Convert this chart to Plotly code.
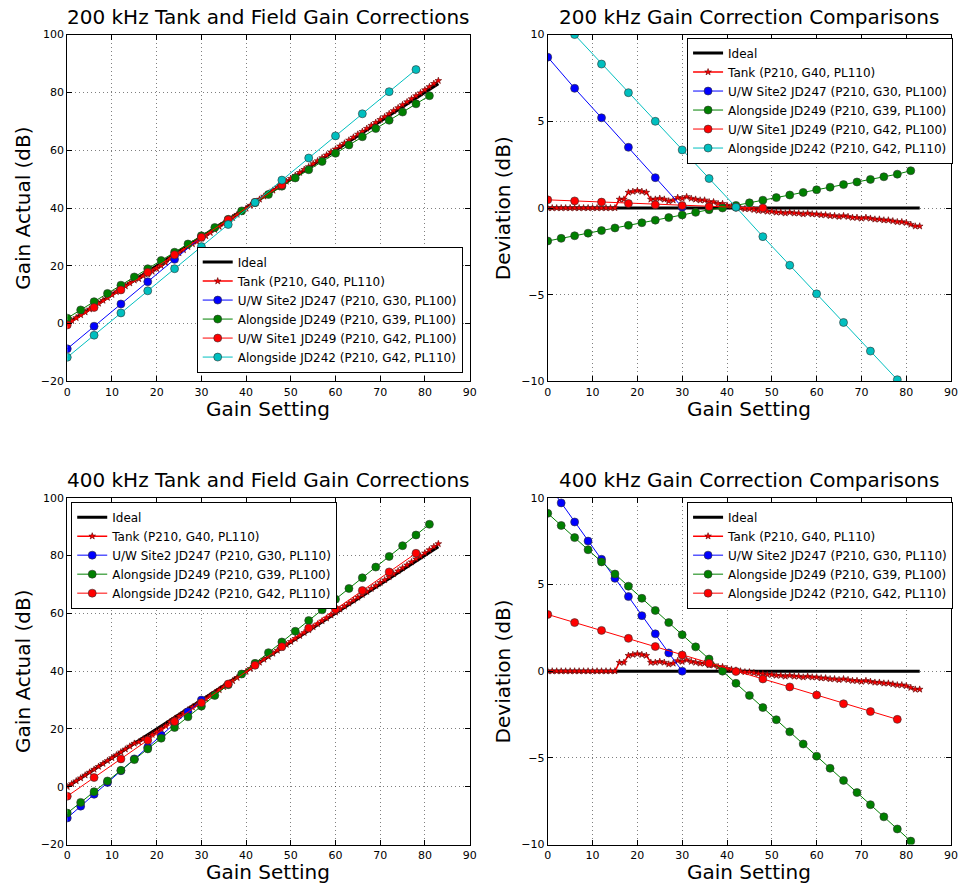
import plotly.graph_objects as go

# ---------------- data ----------------
ideal_x = [0, 83]
ideal_dev = [0, 0]

tank_x = list(range(84))
tank_dev = [0, 0, 0, 0, 0, 0, 0, 0, 0, 0, 0, 0, 0, 0, 0, 0,
            0.5, 0.5, 0.9, 0.95, 1.0, 0.95, 0.9, 0.5, 0.5, 0.55, 0.5, 0.4, 0.45, 0.6,
            0.55, 0.65, 0.55, 0.5, 0.45, 0.45, 0.35, 0.35, 0.25, 0.25, 0.15, 0.1, 0.05, 0.0,
            -0.05, -0.05, -0.1, -0.15, -0.15, -0.2, -0.2, -0.25, -0.25, -0.3, -0.25, -0.3,
            -0.3, -0.35, -0.3, -0.35, -0.35, -0.4, -0.4, -0.45, -0.45, -0.5, -0.45, -0.5,
            -0.55, -0.55, -0.6, -0.55, -0.6, -0.65, -0.65, -0.7, -0.7, -0.75, -0.8, -0.8,
            -0.85, -0.95, -1.05, -1.05]

# 200 kHz
uw2_200_x = [0, 6, 12, 18, 24, 30]
uw2_200_dev = [8.7, 6.9, 5.2, 3.5, 1.75, 0.05]

along249_200_x = [0, 3, 6, 9, 12, 15, 18, 21, 24, 27, 30, 33, 36, 39, 42, 45, 48, 51, 54,
                  57, 60, 63, 66, 69, 72, 75, 78, 81]
along249_200_dev = [-1.9, -1.75, -1.6, -1.45, -1.3, -1.15, -1.0, -0.85, -0.7, -0.55, -0.4,
                    -0.25, -0.1, 0.0, 0.15, 0.3, 0.45, 0.6, 0.75, 0.9, 1.05, 1.2, 1.35,
                    1.5, 1.65, 1.8, 1.95, 2.15]

uw1_200_x = [0, 6, 12, 18, 24, 30, 36, 42, 48]
uw1_200_dev = [0.47, 0.41, 0.34, 0.26, 0.19, 0.14, 0.08, 0.04, 0.0]

along242_200_x = [0, 6, 12, 18, 24, 30, 36, 42, 48, 54, 60, 66, 72, 78]
along242_200_dev = [11.65, 10.0, 8.3, 6.65, 5.0, 3.35, 1.7, 0.05, -1.65, -3.3, -4.95,
                    -6.6, -8.25, -9.9]

# 400 kHz
uw2_400_x = [0, 3, 6, 9, 12, 15, 18, 21, 24, 27, 30]
uw2_400_dev = [10.8, 9.7, 8.6, 7.5, 6.45, 5.35, 4.3, 3.2, 2.15, 1.05, 0.0]

along249_400_x = [0, 3, 6, 9, 12, 15, 18, 21, 24, 27, 30, 33, 36, 39, 42, 45, 48, 51, 54,
                  57, 60, 63, 66, 69, 72, 75, 78, 81]
along249_400_dev = [9.1, 8.4, 7.7, 7.0, 6.3, 5.6, 4.9, 4.2, 3.5, 2.8, 2.1, 1.4, 0.7, 0.0,
                    -0.7, -1.4, -2.1, -2.8, -3.5, -4.2, -4.9, -5.6, -6.3, -7.0, -7.7,
                    -8.4, -9.1, -9.8]

along242_400_x = [0, 6, 12, 18, 24, 30, 36, 42, 48, 54, 60, 66, 72, 78]
along242_400_dev = [3.27, 2.8, 2.35, 1.89, 1.42, 0.93, 0.45, -0.02, -0.45, -0.91, -1.38,
                    -1.88, -2.33, -2.78]

LBL_IDEAL = "Ideal"
LBL_TANK = "Tank (P210, G40, PL110)"
LBL_UW2_200 = "U/W Site2 JD247 (P210, G30, PL100)"
LBL_UW2_400 = "U/W Site2 JD247 (P210, G30, PL110)"
LBL_A249 = "Alongside JD249 (P210, G39, PL100)"
LBL_UW1 = "U/W Site1 JD249 (P210, G42, PL100)"
LBL_A242 = "Alongside JD242 (P210, G42, PL110)"

TITLES = ["200 kHz Tank and Field Gain Corrections", "200 kHz Gain Correction Comparisons",
          "400 kHz Tank and Field Gain Corrections", "400 kHz Gain Correction Comparisons"]


def actual(xs, devs):
    return [x - d for x, d in zip(xs, devs)]


FONT = "DejaVu Sans"
BLUE, GREEN, RED, CYAN = "#0000ff", "#008000", "#ff0000", "#00bfbf"

fig = go.Figure()


def add(xs, ys, name, color, axis, legend, kind="circle"):
    xa, ya = axis
    if kind == "ideal":
        tr = go.Scatter(x=xs, y=ys, mode="lines", name=name,
                        line=dict(color="black", width=3))
    elif kind == "star":
        tr = go.Scatter(x=xs, y=ys, mode="lines+markers", name=name,
                        line=dict(color=color, width=1.5),
                        marker=dict(symbol="star", size=5, color=color,
                                    line=dict(color="#5a0000", width=0.6)))
    else:
        tr = go.Scatter(x=xs, y=ys, mode="lines+markers", name=name,
                        line=dict(color=color, width=1),
                        marker=dict(symbol="circle", size=8, color=color,
                                    line=dict(color="#333333", width=0.6)))
    tr.update(xaxis=xa, yaxis=ya, legend=legend)
    fig.add_trace(tr)


# panel 1: 200 kHz actual
ax = ("x", "y")
add(ideal_x, ideal_x, LBL_IDEAL, "black", ax, "legend", "ideal")
add(tank_x, actual(tank_x, tank_dev), LBL_TANK, RED, ax, "legend", "star")
add(uw2_200_x, actual(uw2_200_x, uw2_200_dev), LBL_UW2_200, BLUE, ax, "legend")
add(along249_200_x, actual(along249_200_x, along249_200_dev), LBL_A249, GREEN, ax, "legend")
add(uw1_200_x, actual(uw1_200_x, uw1_200_dev), LBL_UW1, RED, ax, "legend")
add(along242_200_x, actual(along242_200_x, along242_200_dev), LBL_A242, CYAN, ax, "legend")

# panel 2: 200 kHz deviation
ax = ("x2", "y2")
add(ideal_x, ideal_dev, LBL_IDEAL, "black", ax, "legend2", "ideal")
add(tank_x, tank_dev, LBL_TANK, RED, ax, "legend2", "star")
add(uw2_200_x, uw2_200_dev, LBL_UW2_200, BLUE, ax, "legend2")
add(along249_200_x, along249_200_dev, LBL_A249, GREEN, ax, "legend2")
add(uw1_200_x, uw1_200_dev, LBL_UW1, RED, ax, "legend2")
add(along242_200_x, along242_200_dev, LBL_A242, CYAN, ax, "legend2")

# panel 3: 400 kHz actual
ax = ("x3", "y3")
add(ideal_x, ideal_x, LBL_IDEAL, "black", ax, "legend3", "ideal")
add(tank_x, actual(tank_x, tank_dev), LBL_TANK, RED, ax, "legend3", "star")
add(uw2_400_x, actual(uw2_400_x, uw2_400_dev), LBL_UW2_400, BLUE, ax, "legend3")
add(along249_400_x, actual(along249_400_x, along249_400_dev), LBL_A249, GREEN, ax, "legend3")
add(along242_400_x, actual(along242_400_x, along242_400_dev), LBL_A242, RED, ax, "legend3")

# panel 4: 400 kHz deviation
ax = ("x4", "y4")
add(ideal_x, ideal_dev, LBL_IDEAL, "black", ax, "legend4", "ideal")
add(tank_x, tank_dev, LBL_TANK, RED, ax, "legend4", "star")
add(uw2_400_x, uw2_400_dev, LBL_UW2_400, BLUE, ax, "legend4")
add(along249_400_x, along249_400_dev, LBL_A249, GREEN, ax, "legend4")
add(along242_400_x, along242_400_dev, LBL_A242, RED, ax, "legend4")

W, H = 966, 891
# plot areas in pixels (left, right, top, bottom)
boxes = [(64, 471, 29, 381), (550, 958, 29, 381), (64, 471, 499, 851), (550, 958, 499, 851)]
yranges = [[-20, 100], [-10, 10], [-20, 100], [-10, 10]]
ydticks = [20, 5, 20, 5]
ylabels = ["Gain Actual (dB)", "Deviation (dB)", "Gain Actual (dB)", "Deviation (dB)"]

common = dict(showline=True, linecolor="black", linewidth=1, mirror="allticks",
              ticks="inside", ticklen=5, tickcolor="black", showgrid=True,
              gridcolor="rgba(0,0,0,0.5)", griddash="1px,3px", gridwidth=1,
              zeroline=False, tickfont=dict(family=FONT, size=11, color="black"))

annotations = []
for i, (l, r, t, b) in enumerate(boxes):
    suf = "" if i == 0 else str(i + 1)
    fig.layout["xaxis" + suf] = dict(domain=[l / W, r / W], range=[0, 90], dtick=10,
                                     anchor="y" + suf, **common)
    fig.layout["yaxis" + suf] = dict(domain=[1 - b / H, 1 - t / H], range=yranges[i],
                                     dtick=ydticks[i], anchor="x" + suf, **common)
    cx = (l + r) / 2
    annotations.append(dict(text=TITLES[i], x=cx / W, y=1 - (t - 4) / H, xref="paper",
                            yref="paper", xanchor="center", yanchor="bottom",
                            showarrow=False, font=dict(family=FONT, size=20, color="black")))
    annotations.append(dict(text="Gain Setting", x=cx / W, y=1 - (b + 14) / H, xref="paper",
                            yref="paper", xanchor="center", yanchor="top",
                            showarrow=False, font=dict(family=FONT, size=20, color="black")))
    annotations.append(dict(text=ylabels[i], x=(l - 45) / W, y=1 - (t + b) / 2 / H,
                            xref="paper", yref="paper", xanchor="center", yanchor="middle",
                            textangle=-90, showarrow=False,
                            font=dict(family=FONT, size=20, color="black")))

leg_common = dict(bgcolor="white", bordercolor="black", borderwidth=1, itemwidth=30,
                  font=dict(family=FONT, size=12, color="black"), tracegroupgap=0)

fig.update_layout(
    width=W, height=H, margin=dict(l=0, r=0, t=0, b=0),
    paper_bgcolor="white", plot_bgcolor="white", showlegend=True,
    annotations=annotations,
    legend=dict(x=464 / W, y=1 - 372 / H, xanchor="right", yanchor="bottom", **leg_common),
    legend2=dict(x=960 / W, y=1 - 32 / H, xanchor="right", yanchor="top", **leg_common),
    legend3=dict(x=68 / W, y=1 - 503 / H, xanchor="left", yanchor="top", **leg_common),
    legend4=dict(x=960 / W, y=1 - 503 / H, xanchor="right", yanchor="top", **leg_common),
)

fig.write_html("out.html")
